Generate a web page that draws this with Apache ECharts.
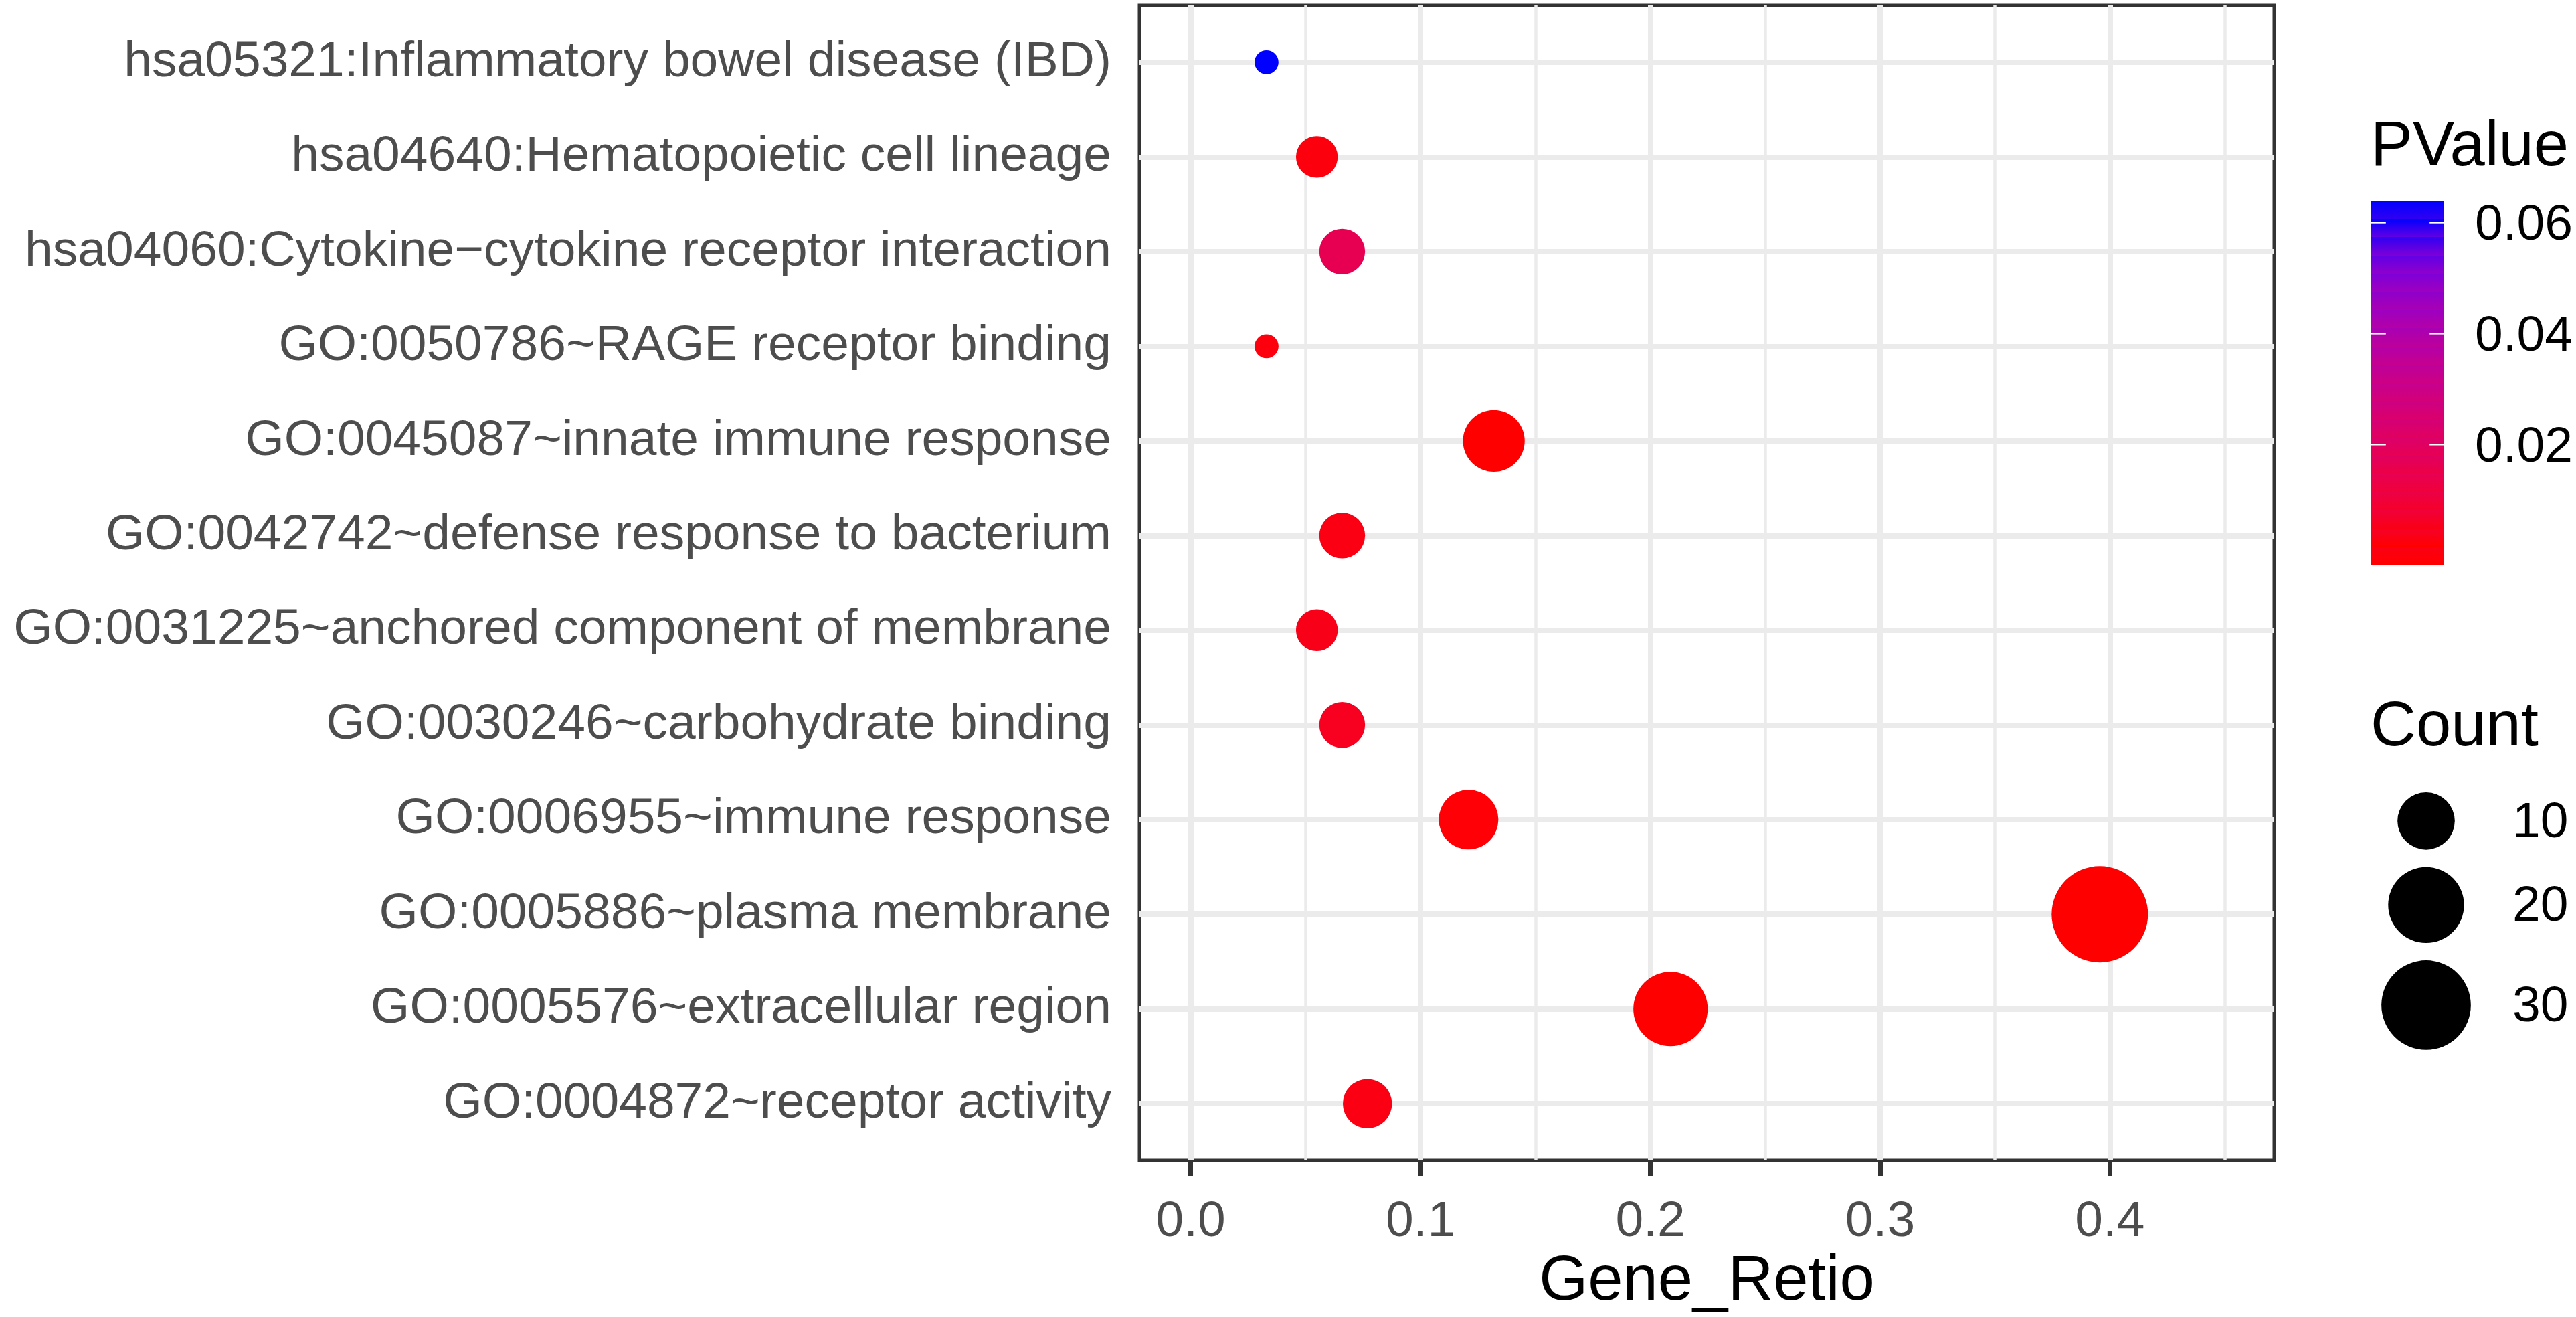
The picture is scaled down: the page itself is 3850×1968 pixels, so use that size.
<!DOCTYPE html>
<html>
<head>
<meta charset="utf-8">
<title>Gene_Retio</title>
<script src="https://cdn.jsdelivr.net/npm/echarts@6.0.0/dist/echarts.min.js"></script>
<style>
html, body { margin: 0; padding: 0; background: #fff; }
#chart { width: 3850px; height: 1968px; }
</style>
</head>
<body>
<div id="chart"></div>
<script>
// terms from top to bottom
var terms = [
    'hsa05321:Inflammatory bowel disease (IBD)',
    'hsa04640:Hematopoietic cell lineage',
    'hsa04060:Cytokine\u2212cytokine receptor interaction',
    'GO:0050786~RAGE receptor binding',
    'GO:0045087~innate immune response',
    'GO:0042742~defense response to bacterium',
    'GO:0031225~anchored component of membrane',
    'GO:0030246~carbohydrate binding',
    'GO:0006955~immune response',
    'GO:0005886~plasma membrane',
    'GO:0005576~extracellular region',
    'GO:0004872~receptor activity'
];
var geneRatio = [0.0330, 0.0549, 0.0659, 0.0330, 0.1319, 0.0659, 0.0549, 0.0659, 0.1209, 0.3956, 0.2088, 0.0769];
var counts    = [3, 5, 6, 3, 12, 6, 5, 6, 11, 36, 19, 7];
var pValues   = [0.0623, 0.002, 0.016, 0.002, 0.0001, 0.003, 0.004, 0.005, 0.001, 0.000001, 0.0001, 0.003];

var xTicks = [0, 0.1, 0.2, 0.3, 0.4];
var xMinor = [0.05, 0.15, 0.25, 0.35, 0.45];
var pTicks = [0.02, 0.04, 0.06];
var countBreaks = [10, 20, 30];

// red -> blue, interpolated in Lab like ggplot's gradient
var pColors = ['#FF0000', '#F40031', '#E80050', '#DA006C', '#CA0089', '#B500A5', '#9A00C3', '#7300E0', '#0000FF'];

var FONT = 'Liberation Sans, Arial, Helvetica, sans-serif';
var TEXT = 75, TITLE = 94;

var cMin = Math.min.apply(null, counts), cMax = Math.max.apply(null, counts);
function radius(c) {
    return 17.9 + 54.1 * Math.sqrt(Math.max(0, c - cMin) / (cMax - cMin));
}
var pMin = Math.min.apply(null, pValues), pMax = Math.max.apply(null, pValues);

var rows = terms.map(function (t, i) { return i + 1; });
var points = terms.map(function (t, i) {
    return [geneRatio[i], i + 1, counts[i], pValues[i], t];
});

// grid lines as mark lines (major + minor)
var gridLines = [];
xTicks.forEach(function (v) { gridLines.push({ xAxis: v, lineStyle: { width: 8 } }); });
xMinor.forEach(function (v) { gridLines.push({ xAxis: v, lineStyle: { width: 4.5 } }); });
rows.forEach(function (v) { gridLines.push({ yAxis: v, lineStyle: { width: 8 } }); });

// ---- legends (drawn as graphics) ----
var graphics = [];
var legX = 3543;

// PValue colour bar
var barX = 3544, barY = 300, barW = 109, barH = 544, nBin = 20;
var half = barH / nBin / 2;
function barPos(v) {
    return barY + half + (pMax - v) / (pMax - pMin) * (barH - 2 * half);
}
var stops = [];
for (var i = 0; i < nBin; i++) {
    var col = echarts.color.lerp(i / (nBin - 1), pColors);
    // bin i counted from the bottom
    stops.push({ offset: 1 - (i + 1) / nBin, color: col });
    stops.push({ offset: 1 - i / nBin, color: col });
}
stops.sort(function (a, b) { return a.offset - b.offset; });

graphics.push({
    type: 'text', left: legX, top: 221 - TITLE / 2,
    style: { text: 'PValue', fontSize: TITLE, fontFamily: FONT, fill: '#000' }
});
graphics.push({
    type: 'rect', shape: { x: barX, y: barY, width: barW, height: barH },
    style: { fill: { type: 'linear', x: 0, y: 0, x2: 0, y2: 1, colorStops: stops } }
});
pTicks.forEach(function (v) {
    var y = barPos(v);
    graphics.push({
        type: 'line', shape: { x1: barX, y1: y, x2: barX + barW / 5, y2: y },
        style: { stroke: '#fff', lineWidth: 2 }
    });
    graphics.push({
        type: 'line', shape: { x1: barX + barW * 4 / 5, y1: y, x2: barX + barW, y2: y },
        style: { stroke: '#fff', lineWidth: 2 }
    });
    graphics.push({
        type: 'text', x: 3699, y: y + 5,
        style: { text: v.toFixed(2), fontSize: TEXT, fontFamily: FONT, fill: '#000', verticalAlign: 'middle', align: 'left' }
    });
});

// Count size legend
graphics.push({
    type: 'text', left: legX, top: 1088 - TITLE / 2,
    style: { text: 'Count', fontSize: TITLE, fontFamily: FONT, fill: '#000' }
});
var keyY = 1171;
countBreaks.forEach(function (c) {
    var r = radius(c);
    var h = 2 * r + 26;
    var cy = keyY + h / 2;
    graphics.push({
        type: 'circle', shape: { cx: 3626, cy: cy, r: r },
        style: { fill: '#000' }
    });
    graphics.push({
        type: 'text', x: 3755, y: cy + 3,
        style: { text: String(c), fontSize: TEXT, fontFamily: FONT, fill: '#000', verticalAlign: 'middle', align: 'left' }
    });
    keyY += h;
});

var chart = echarts.init(document.getElementById('chart'), null, { renderer: 'canvas' });
chart.setOption({
    backgroundColor: '#fff',
    animation: false,
    textStyle: { fontFamily: FONT },
    grid: {
        left: 1703, top: 8, width: 1696, height: 1729,
        show: true, borderColor: '#333333', borderWidth: 5, backgroundColor: 'transparent'
    },
    xAxis: {
        type: 'value',
        min: -0.0223, max: 0.4715,
        name: 'Gene_Retio',
        nameLocation: 'middle',
        nameGap: 175,
        nameTextStyle: { fontSize: TITLE, color: '#000', fontFamily: FONT, verticalAlign: 'middle' },
        axisLine: { show: false },
        splitLine: { show: false },
        axisTick: {
            show: true, customValues: xTicks, length: 23,
            lineStyle: { color: '#333333', width: 7 }
        },
        axisLabel: {
            customValues: xTicks, margin: 55,
            fontSize: TEXT, color: '#4D4D4D', fontFamily: FONT,
            formatter: function (v) { return v.toFixed(1); }
        }
    },
    yAxis: {
        type: 'value',
        min: 0.4, max: 12.6, inverse: true,
        axisLine: { show: false },
        splitLine: { show: false },
        axisTick: {
            show: true, customValues: rows, length: 23,
            lineStyle: { color: '#333333', width: 7 }
        },
        axisLabel: {
            customValues: rows, margin: 42,
            fontSize: TEXT, color: '#4D4D4D', fontFamily: FONT,
            formatter: function (v) { return terms[Math.round(v) - 1]; }
        }
    },
    visualMap: {
        type: 'continuous', show: false,
        seriesIndex: 1, dimension: 3,
        min: pMin, max: pMax,
        inRange: { color: pColors }
    },
    series: [
        {
            // background grid lines
            type: 'scatter', data: [], z: 1, silent: true,
            markLine: {
                z: 1,
                silent: true, symbol: 'none', animation: false,
                label: { show: false },
                lineStyle: { color: '#EBEBEB', type: 'solid' },
                emphasis: { disabled: true },
                data: gridLines
            }
        },
        {
            type: 'scatter', z: 10,
            data: points,
            symbol: 'circle',
            symbolSize: function (d) { return 2 * radius(d[2]); },
            itemStyle: { opacity: 1 }
        }
    ],
    graphic: graphics
});
</script>
</body>
</html>
